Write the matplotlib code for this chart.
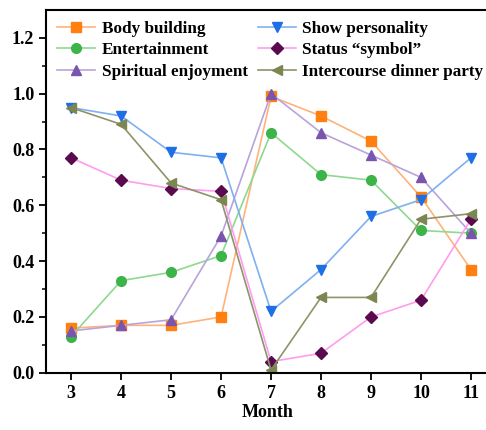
import matplotlib.pyplot as plt
import numpy as np

months = [3, 4, 5, 6, 7, 8, 9, 10, 11]

body_building = [0.16, 0.17, 0.17, 0.20, 0.99, 0.92, 0.83, 0.63, 0.37]
entertainment = [0.13, 0.33, 0.36, 0.42, 0.86, 0.71, 0.69, 0.51, 0.50]
spiritual = [0.15, 0.17, 0.19, 0.49, 1.00, 0.86, 0.78, 0.70, 0.50]
show_personality = [0.95, 0.92, 0.79, 0.77, 0.22, 0.37, 0.56, 0.62, 0.77]
status_symbol = [0.77, 0.69, 0.66, 0.65, 0.04, 0.07, 0.20, 0.26, 0.55]
dinner_party = [0.95, 0.89, 0.68, 0.62, 0.01, 0.27, 0.27, 0.55, 0.57]

plt.rcParams['font.family'] = 'Liberation Serif'
plt.rcParams['font.weight'] = 'bold'

fig = plt.figure(figsize=(4.86, 4.3), dpi=100)
# right spine sits just past the image edge, as in the reference
ax = fig.add_axes([0.095, 0.133, 0.91, 0.844])

series = [
    ("Body building", body_building, 's', '#ffb27a', '#ff8010'),
    ("Entertainment", entertainment, 'o', '#8fd88f', '#3cb44a'),
    ("Spiritual enjoyment", spiritual, '^', '#b9a3dc', '#7a55b0'),
    ("Show personality", show_personality, 'v', '#7fb0f0', '#1e6fe6'),
    ("Status \u201csymbol\u201d", status_symbol, 'D', '#ff9cf0', '#5a0a4e'),
    ("Intercourse dinner party", dinner_party, '<', '#8c9468', '#7c8650'),
]

for label, vals, mk, lc, mc in series:
    ax.plot(months, vals, color=lc, lw=1.2, marker=mk, markersize=7 if mk != 'D' else 6,
            markerfacecolor=mc, markeredgecolor=mc, label=label)

ax.set_xlim(2.5, 11.35)
ax.set_ylim(0, 1.3)
ax.set_xticks(months)
ax.set_yticks([0.0, 0.2, 0.4, 0.6, 0.8, 1.0, 1.2])
ax.set_yticks(np.arange(0.1, 1.3, 0.2), minor=True)
ax.tick_params(axis='both', labelsize=13, width=1.3, length=5, direction='out')
ax.tick_params(axis='y', which='minor', width=1.1, length=3)
for lab in ax.get_xticklabels() + ax.get_yticklabels():
    lab.set_fontweight('bold')
for sp in ax.spines.values():
    sp.set_linewidth(1.5)

ax.set_xlabel("Month", fontsize=13, fontweight='bold', labelpad=2)

ax.legend(ncol=2, loc='upper left', frameon=False,
          prop={'weight': 'bold', 'size': 12.3}, handlelength=2.2,
          columnspacing=0.6, labelspacing=0.32, borderaxespad=0.25,
          handletextpad=0.4)

fig.savefig("out.png", dpi=100)
